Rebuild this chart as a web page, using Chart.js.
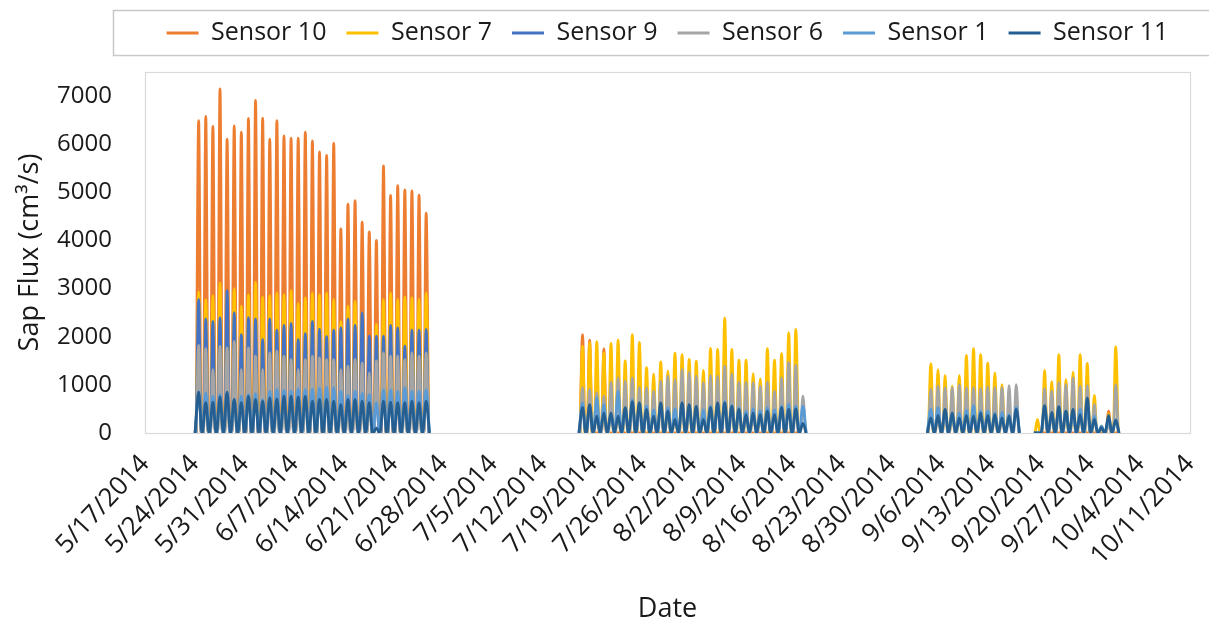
<!DOCTYPE html>
<html>
<head>
<meta charset="utf-8">
<style>
  html, body { margin: 0; padding: 0; background: #ffffff; }
  #wrap { width: 1209px; height: 629px; position: relative; }
</style>
<script src="https://cdn.jsdelivr.net/npm/chart.js@4.4.1/dist/chart.umd.min.js"></script>
</head>
<body>
<div id="wrap"><canvas id="chart" width="1209" height="629"></canvas></div>
<script>
// ---- Data ----
// x axis: days after 5/17/2014, weekly tick labels
const tickLabels = ['5/17/2014','5/24/2014','5/31/2014','6/7/2014','6/14/2014','6/21/2014','6/28/2014',
  '7/5/2014','7/12/2014','7/19/2014','7/26/2014','8/2/2014','8/9/2014','8/16/2014','8/23/2014',
  '8/30/2014','9/6/2014','9/13/2014','9/20/2014','9/27/2014','10/4/2014','10/11/2014'];
const yTickValues = [0, 1000, 2000, 3000, 4000, 5000, 6000, 7000];
const seriesNames = ['Sensor 10', 'Sensor 7', 'Sensor 9', 'Sensor 6', 'Sensor 1', 'Sensor 11'];
// first day (days after 5/17/2014) of each measurement block
const blockStartDays = [7, 61, 110, 125];

// daily peak sap flux (cm3/s) per block; night-time flux is 0
const sensor10 = [
  [6490, 6575, 6370, 7150, 6105, 6380, 6250, 6535, 6910, 6540, 6105, 6490, 6175, 6125, 6125, 6250, 6070, 5840, 5765, 6020, 4240, 4755, 4825, 4380, 4180, 4000, 5550, 4935, 5140, 5050, 5030, 4940, 4565],
  [2045, 1930, 0, 1745, 0, 0, 0, 0, 0, 0, 0, 0, 0, 0, 0, 0, 0, 0, 0, 0, 0, 0, 0, 0, 0, 0, 0, 0, 0, 0, 0, null],
  [],
  [0, 0, 0, 0, 0, 0, 0, 0, 0, 0, 455, 0]
];
const sensor7 = [
  [2930, 2770, 2855, 3120, 2900, 3000, 2635, 2875, 3135, 2830, 2855, 2910, 2875, 2965, 2690, 2810, 2910, 2875, 2910, 2775, 2320, 2635, 2740, 2500, 1950, 2255, 2770, 2910, 2775, 2830, 2810, 2775, 2910],
  [1805, 1875, 1900, 1665, 1860, 1930, 1500, 2045, 1880, 1360, 1230, 1475, 1290, 1660, 1630, 1530, 1495, 1305, 1760, 1735, 2390, 1735, 1515, 1515, 1235, 1125, 1755, 1515, 1650, 2080, 2150, null],
  [1435, 1315, 1195, 975, 1195, 1610, 1750, 1630, 1450, 1250, 1005, null, null],
  [280, 1305, 1065, 1630, 1110, 1265, 1630, 1445, 780, 140, 400, 1790]
];
const sensor9 = [
  [2775, 2370, 2320, 2395, 2965, 2500, 2045, 2395, 2370, 1940, 2370, 2135, 2235, 2275, 1940, 2065, 2320, 2150, 2000, 2135, 2185, 2370, 2235, 2500, 2010, 2010, 2010, 2235, 2185, 1805, 2135, 2135, 2150],
  [],
  [],
  []
];
const sensor6 = [
  [1820, 1750, 1320, 1800, 1770, 1905, 1320, 1770, 1600, 1320, 1665, 1700, 1595, 1525, 1320, 1525, 1595, 1560, 1525, 1525, 1320, 1390, 1525, 1450, 1250, 1500, 1665, 1595, 1595, 1525, 1665, 1595, 1665],
  [940, 905, 840, 765, 1055, 1145, 1075, 1145, 940, 940, 870, 1075, 1180, 1110, 1320, 1265, 1180, 1045, 1195, 1180, 1390, 1235, 1055, 1055, 1045, 975, 1055, 870, 1145, 1460, 1405, 765],
  [905, 975, 940, 940, 1005, 940, 940, 920, 960, 940, 940, 985, 1005],
  [0, 920, 870, 1045, 1005, 1145, 975, 985, 590, 140, 280, 1005]
];
const sensor1 = [
  [860, 835, 765, 800, 835, 700, 765, 800, 820, 700, 870, 905, 890, 870, 920, 905, 918, 939, 960, 940, 870, 780, 870, 830, 800, 630, 900, 900, 870, 940, 870, 870, 900],
  [625, 560, 730, 590, 420, 870, 510, 695, 625, 560, 480, 590, 520, 500, 620, 560, 520, 480, 560, 600, 650, 580, 520, 450, 500, 460, 520, 480, 560, 600, 560, 560],
  [490, 525, 455, 420, 420, 470, 570, 455, 455, 420, 430, 385, 525],
  [0, 555, 420, 525, 455, 455, 490, 490, 350, 140, 280, 270]
];
const sensor11 = [
  [850, 630, 640, 750, 850, 700, 630, 765, 700, 660, 730, 710, 765, 765, 750, 765, 660, 700, 700, 660, 590, 700, 700, 660, 630, 100, 660, 640, 630, 630, 660, 630, 660],
  [525, 590, 350, 420, 420, 350, 525, 650, 625, 490, 350, 625, 455, 280, 625, 590, 555, 280, 525, 625, 625, 555, 490, 385, 420, 385, 455, 385, 525, 490, 500, 200],
  [315, 365, 490, 420, 315, 365, 350, 420, 365, 385, 315, 350, 490],
  [0, 570, 430, 545, 455, 490, 385, 730, 280, 110, 365, 270]
];

// ---- Styles ----
const seriesColors = ['#ED7D31', '#FFC000', '#4472C4', '#A5A5A5', '#5B9BD5', '#255E91'];
// [sunrise, peak, sunset] as fraction of the day (shape only)
const narrowDay = [0.2, 0.55, 0.9];
const wideDay = [0.04, 0.55, 1.02];
const dayShapes = [narrowDay, narrowDay, narrowDay, narrowDay, wideDay, wideDay];

function buildPoints(blocks, shape) {
  const pts = [];
  blockStartDays.forEach((start, b) => {
    const vals = blocks[b];
    if (!vals || vals.length === 0) return;
    vals.forEach((v, i) => {
      const d = start + i;
      if (v === null) { pts.push({ x: d + shape[1], y: null }); return; }
      pts.push({ x: d + shape[0], y: 0 }, { x: d + shape[1], y: v }, { x: d + shape[2], y: 0 });
    });
    pts.push({ x: start + vals.length + 0.5, y: null });
  });
  return pts;
}

const allSeries = [sensor10, sensor7, sensor9, sensor6, sensor1, sensor11];
const datasets = allSeries.map((s, i) => ({
  label: seriesNames[i],
  data: buildPoints(s, dayShapes[i]),
  borderColor: seriesColors[i],
  backgroundColor: seriesColors[i],
  borderWidth: 2.8,
  pointRadius: 0,
  cubicInterpolationMode: 'monotone',
  spanGaps: false,
  fill: false,
  order: allSeries.length - i   // later sensors drawn on top
}));

const FONT = '"Open Sans", "Liberation Sans", sans-serif';
const TEXT = '#1a1a1a';
const LEGEND_FONT_SIZE = 25;
const LEGEND_PAD = 20;
const LEGEND_CENTER_Y = 33;

const framePlugin = {
  id: 'frame',
  afterLayout(chart) {
    const lg = chart.legend;
    if (!lg) return;
    const delta = LEGEND_CENTER_Y - (lg.top + LEGEND_PAD + LEGEND_FONT_SIZE / 2);
    lg.top += delta;
    lg.bottom += delta;
  },
  beforeDraw(chart) {
    const ctx = chart.ctx;
    ctx.save();
    ctx.fillStyle = '#ffffff';
    ctx.fillRect(0, 0, chart.width, chart.height);
    ctx.restore();
  },
  beforeDatasetsDraw(chart) {
    const a = chart.chartArea, ctx = chart.ctx;
    ctx.save();
    ctx.strokeStyle = '#d9d9d9';
    ctx.lineWidth = 1.2;
    ctx.strokeRect(Math.round(a.left) + 0.5, Math.round(a.top) + 0.5, Math.round(a.right - a.left), Math.round(a.bottom - a.top));
    ctx.restore();
  },
  afterDraw(chart) {
    const ctx = chart.ctx;
    ctx.save();
    ctx.strokeStyle = '#c8c8c8';
    ctx.lineWidth = 1.5;
    ctx.strokeRect(113.5, 10.5, 1110, 45);
    ctx.restore();
  }
};

new Chart(document.getElementById('chart'), {
  type: 'line',
  data: { datasets },
  plugins: [framePlugin],
  options: {
    responsive: false,
    animation: false,
    layout: { padding: { top: 1, left: 0, right: 0, bottom: 0 } },
    plugins: {
      tooltip: { enabled: false },
      legend: {
        display: true,
        position: 'top',
        fullSize: false,
        align: 'center',
        labels: {
          usePointStyle: true,
          pointStyle: 'line',
          pointStyleWidth: 32,
          padding: LEGEND_PAD,
          color: TEXT,
          font: { family: FONT, size: LEGEND_FONT_SIZE },
          sort: (a, b) => a.datasetIndex - b.datasetIndex
        }
      }
    },
    scales: {
      x: {
        type: 'linear',
        min: 0,
        max: 147,
        grid: { display: false },
        border: { display: true, color: '#d9d9d9' },
        ticks: {
          stepSize: 7,
          autoSkip: false,
          minRotation: 47,
          maxRotation: 47,
          padding: 8,
          color: TEXT,
          font: { family: FONT, size: 26 },
          callback: (v) => tickLabels[Math.round(v / 7)]
        },
        title: {
          display: true,
          text: 'Date',
          color: TEXT,
          font: { family: FONT, size: 27 },
          padding: { top: 0, bottom: 3 }
        },
        afterFit(s) { s.height = 196; s.paddingRight = 19; s.paddingLeft = 0; }
      },
      y: {
        min: 0,
        max: 7500,
        grid: { display: false },
        border: { display: false },
        afterBuildTicks(s) { s.ticks = yTickValues.map(v => ({ value: v })); },
        ticks: {
          padding: 25,
          color: TEXT,
          font: { family: FONT, size: 24 },
          callback: (v) => String(v)
        },
        title: {
          display: true,
          text: 'Sap Flux (cm³/s)',
          color: TEXT,
          font: { family: FONT, size: 27 },
          padding: { top: 14, bottom: 0 }
        },
        afterFit(s) { s.width = 145; s.paddingTop = 72; }
      }
    }
  }
});
</script>
</body>
</html>
